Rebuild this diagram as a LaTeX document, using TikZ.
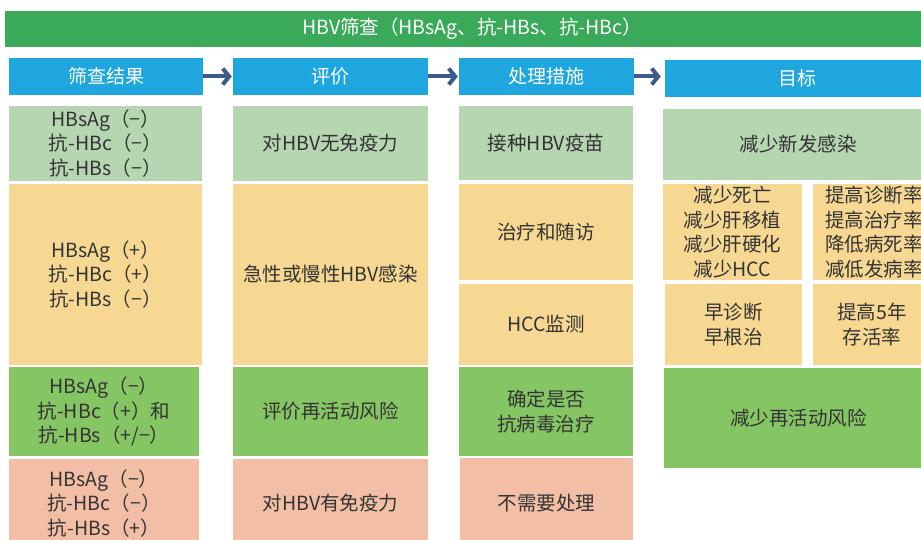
\documentclass[tikz,border=0pt]{standalone}
\usepackage{fontspec}
\setmainfont{Noto Sans CJK SC}
\usetikzlibrary{arrows.meta}
\definecolor{bannergreen}{HTML}{3AAA5A}
\definecolor{hblue}{HTML}{20A6DE}
\definecolor{lgreen}{HTML}{B5D6B1}
\definecolor{lorange}{HTML}{F6D893}
\definecolor{bgreen}{HTML}{86C564}
\definecolor{lpink}{HTML}{F2BFA6}
\definecolor{arrblue}{HTML}{3D5A8C}
\definecolor{txtgray}{HTML}{333333}
\newcommand\cellbox[7]{\node[cell, fill=#6, minimum width={#4pt-#2pt}, minimum height={#5pt-#3pt}] (#1) at ({(#2+#4)/2},{(#3+#5)/2}) {#7};}
\newcommand\headbox[6]{\node[headcell, minimum width={#4pt-#2pt}, minimum height={#5pt-#3pt}] (#1) at ({(#2+#4)/2},{(#3+#5)/2}) {#6};}
\begin{document}
\begin{tikzpicture}[x=1pt,y=-1pt,
  cell/.style={draw=none, inner sep=0pt, align=center, text=txtgray, font=\fontsize{19.5}{24.5}\selectfont},
  headcell/.style={draw=none, fill=hblue, inner sep=0pt, align=center, text=white, font=\fontsize{19}{24}\selectfont},
  arr/.style={draw=arrblue, line width=4pt, -{Straight Barb[length=6.5pt,width=16pt]}}]
\useasboundingbox (0,0) rectangle (921,540);
\clip (0,0) rectangle (921,540);
% banner
\node[draw=none, fill=bannergreen, inner sep=0pt, minimum width=930pt, minimum height=36pt] (banner) at (470,29) {};
\node[text=white, font=\fontsize{19.5}{22}\selectfont, inner sep=0pt] (bannertext) at (472,29) {HBV筛查（HBsAg、抗-HBs、抗-HBc）};
% headers
\headbox{h1}{9}{58}{203}{95}{筛查结果}
\headbox{h2}{233}{58}{428}{95}{评价}
\headbox{h3}{459}{58}{634}{95}{处理措施}
\headbox{h4}{665}{60}{930}{97}{目标}
\draw[arr, shorten >=1pt] (h1.east) -- (h2.west);
\draw[arr, shorten >=1pt] (h2.east) -- (h3.west);
\draw[arr, shorten >=4pt] (h3.east) -- (h3.east -| h4.west);
% column 1
\cellbox{a1}{9}{106}{202}{181}{lgreen}{HBsAg（−）\\抗-HBc（−）\\抗-HBs（−）}
\cellbox{a2}{9}{184}{202}{365}{lorange}{HBsAg（+）\\抗-HBc（+）\\抗-HBs（−）}
\cellbox{a3}{9}{367}{199}{456}{bgreen}{HBsAg（−）\\抗-HBc（+）和\\抗-HBs（+/−）}
\cellbox{a4}{9}{459}{199}{548}{lpink}{HBsAg（−）\\抗-HBc（−）\\抗-HBs（+）}
% column 2
\cellbox{b1}{233}{106}{428}{181}{lgreen}{对HBV无免疫力}
\cellbox{b2}{233}{184}{428}{365}{lorange}{急性或慢性HBV感染}
\cellbox{b3}{233}{367}{428}{456}{bgreen}{评价再活动风险}
\cellbox{b4}{233}{459}{428}{548}{lpink}{对HBV有免疫力}
% column 3
\cellbox{c1}{459}{106}{633}{180}{lgreen}{接种HBV疫苗}
\cellbox{c2}{459}{184}{633}{280}{lorange}{治疗和随访}
\cellbox{c3}{459}{284}{633}{365}{lorange}{HCC监测}
\cellbox{c4}{459}{367}{633}{456}{bgreen}{确定是否\\抗病毒治疗}
\cellbox{c5}{460}{458}{633}{548}{lpink}{不需要处理}
% column 4
\cellbox{d1}{663}{109}{933}{180}{lgreen}{减少新发感染}
\cellbox{d2}{663}{184}{802}{280}{lorange}{减少死亡\\减少肝移植\\减少肝硬化\\减少HCC}
\cellbox{d3}{813}{184}{935}{280}{lorange}{提高诊断率\\提高治疗率\\降低病死率\\减低发病率}
\cellbox{d4}{665}{284}{802}{365}{lorange}{早诊断\\早根治}
\cellbox{d5}{813}{284}{931}{365}{lorange}{提高5年\\存活率}
\cellbox{d6}{664}{368}{933}{468}{bgreen}{减少再活动风险}
\end{tikzpicture}
\end{document}
